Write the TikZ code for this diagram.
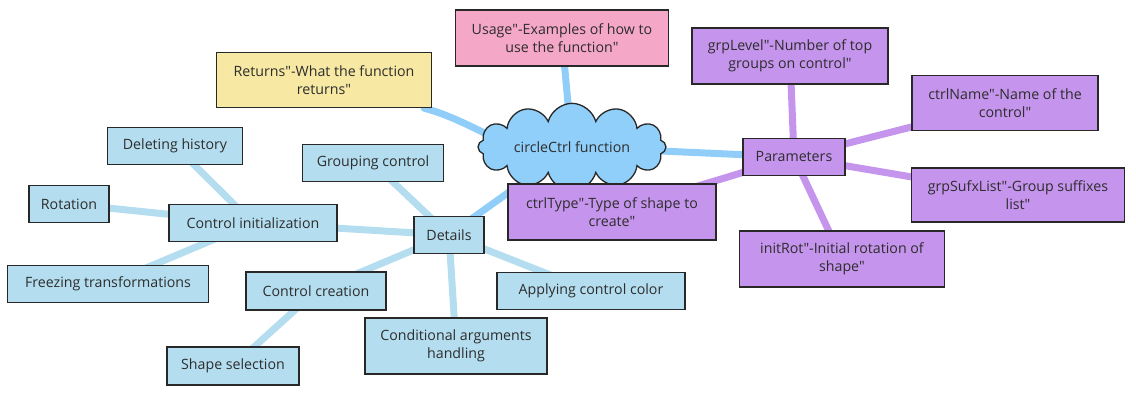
\documentclass[tikz,border=0pt]{standalone}
\usepackage{fontspec}
\setmainfont{Open Sans}[Ligatures=ResetAll]
\usetikzlibrary{shapes.symbols,backgrounds}
\newcommand\dq{\XeTeXglyph\XeTeXcharglyph"22\relax}
\definecolor{boxblue}{RGB}{180,222,240}
\definecolor{mainline}{RGB}{144,206,249}
\definecolor{cloudfill}{RGB}{144,207,250}
\definecolor{purp}{RGB}{197,148,236}
\definecolor{pinkf}{RGB}{244,167,198}
\definecolor{yellowf}{RGB}{247,233,163}
\definecolor{edge}{RGB}{40,40,40}
\definecolor{txt}{RGB}{45,45,45}
\tikzset{
  box/.style={draw=edge, line width=1.3pt, inner sep=0pt, align=center, text=txt, font=\fontsize{14.2}{18}\selectfont},
  bluebox/.style={box, fill=boxblue},
  purpbox/.style={box, fill=purp},
  mainlink/.style={draw=mainline, line width=7pt, line cap=round},
  detlink/.style={draw=boxblue, line width=7pt, line cap=round},
  purlink/.style={draw=purp, line width=7pt, line cap=round},
}
\begin{document}
\begin{tikzpicture}[x=1pt,y=-1pt]
\useasboundingbox (0,0) rectangle (1136,395);
% central
\node[cloud, cloud puffs=12, aspect=2.9, draw=edge, line width=1.3pt, fill=cloudfill, minimum width=188pt, minimum height=66pt, inner sep=0pt, text=txt, font=\fontsize{14.2}{18}\selectfont] (cc) at (572,147) {circleCtrl function};
\node[box, fill=pinkf, minimum width=213pt, minimum height=56pt] (usage) at (562,38) {Usage\dq-Examples of how to\\use the function\dq};
\node[box, fill=yellowf, minimum width=215pt, minimum height=55pt] (ret) at (324,80) {Returns\dq-What the function\\returns\dq};
% parameters
\node[purpbox, minimum width=102pt, minimum height=37pt] (par) at (794,157) {Parameters};
\node[purpbox, minimum width=196pt, minimum height=56pt] (lvl) at (790,56) {grpLevel\dq-Number of top\\groups on control\dq};
\node[purpbox, minimum width=186pt, minimum height=55pt] (cname) at (1005,103) {ctrlName\dq-Name of the\\control\dq};
\node[purpbox, minimum width=213pt, minimum height=54pt] (sufx) at (1018,195) {grpSufxList\dq-Group suffixes\\list\dq};
\node[purpbox, minimum width=205pt, minimum height=56pt] (rot) at (842,259) {initRot\dq-Initial rotation of\\shape\dq};
\node[purpbox, minimum width=208pt, minimum height=56pt] (ctype) at (612,212) {ctrlType\dq-Type of shape to\\create\dq};
% details
\node[bluebox, minimum width=70pt, minimum height=37pt] (det) at (449,235) {Details};
\node[bluebox, minimum width=141pt, minimum height=37pt] (grp) at (373,163) {Grouping control};
\node[bluebox, minimum width=168pt, minimum height=37pt] (cinit) at (253,223) {Control initialization};
\node[bluebox, minimum width=135pt, minimum height=37pt] (hist) at (175,146) {Deleting history};
\node[bluebox, minimum width=80pt, minimum height=37pt] (rotn) at (69,204) {Rotation};
\node[bluebox, minimum width=201pt, minimum height=37pt] (frz) at (108,284) {Freezing transformations};
\node[bluebox, minimum width=140pt, minimum height=38pt] (ccr) at (316,291) {Control creation};
\node[bluebox, minimum width=132pt, minimum height=38pt] (shp) at (233,366) {Shape selection};
\node[bluebox, minimum width=182pt, minimum height=56pt] (cond) at (456,346) {Conditional arguments\\handling};
\node[bluebox, minimum width=188pt, minimum height=37pt] (col) at (591,291) {Applying control color};
% links
\begin{scope}[on background layer]
\draw[mainlink] (cc.center) -- (usage.center);
\draw[mainlink] (ret.south east) ++(-8,0) to[out=-15,in=195] (cc.center);
\draw[mainlink] (cc.center) -- (par.center);
\draw[mainlink] (cc.center) -- (det.center);
\draw[purlink] (par.center) -- (lvl.center);
\draw[purlink] (par.center) -- (cname.center);
\draw[purlink] (par.center) -- (sufx.center);
\draw[purlink] (par.center) -- (rot.center);
\draw[purlink] (par.center) -- (ctype.center);
\draw[detlink] (det.center) -- (grp.center);
\draw[detlink] (det.center) -- (cinit.center);
\draw[detlink] (det.center) -- (ccr.center);
\draw[detlink] (det.center) -- (cond.center);
\draw[detlink] (det.center) -- (col.center);
\draw[detlink] (cinit.center) -- (hist.center);
\draw[detlink] (cinit.center) -- (rotn.center);
\draw[detlink] (cinit.center) -- (frz.center);
\draw[detlink] (ccr.center) -- (shp.center);
\end{scope}
\end{tikzpicture}
\end{document}
